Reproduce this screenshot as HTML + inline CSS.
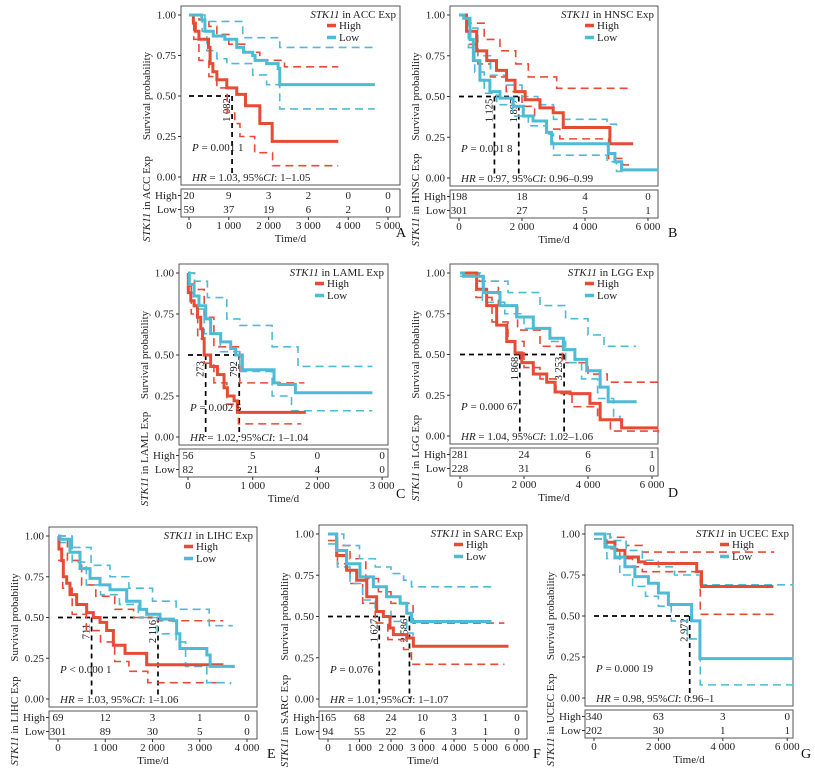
<!DOCTYPE html>
<html><head><meta charset="utf-8">
<style>
html,body{margin:0;padding:0;background:#fff;}
svg{display:block;font-family:"Liberation Serif",serif;}
</style></head>
<body>
<svg id="fig" width="815" height="774" viewBox="0 0 815 774" xmlns="http://www.w3.org/2000/svg"></svg>
<script>
// ---------- DATA (step points: time in days, survival prob) ----------
const A_high_t=[0,110,160,250,490,530,600,700,950,1200,1420,1780,2090,3750];
const A_high_s=[1,0.95,0.90,0.85,0.80,0.70,0.65,0.60,0.55,0.51,0.44,0.33,0.22,0.22];
const A_high_up_t=[0,250,500,700,1000,1400,1780,2400,3750];
const A_high_up_s=[1,0.97,0.93,0.88,0.82,0.77,0.72,0.68,0.68];
const A_high_lo_t=[0,120,250,500,700,960,1150,1280,1650,2100,3750];
const A_high_lo_s=[1,0.85,0.72,0.62,0.55,0.40,0.33,0.25,0.15,0.07,0.07];
const A_low_t=[0,320,400,610,900,1200,1370,1600,1660,1950,2240,2280,4670];
const A_low_s=[1,0.97,0.90,0.87,0.85,0.80,0.77,0.75,0.72,0.70,0.67,0.57,0.57];
const A_low_up_t=[0,400,1350,2280,4670];
const A_low_up_s=[1,0.96,0.86,0.80,0.80];
const A_low_lo_t=[0,330,450,700,950,1600,1950,2280,4670];
const A_low_lo_s=[1,0.90,0.78,0.73,0.70,0.63,0.57,0.42,0.42];
const A_ticks=[0,1000,2000,3000,4000,5000];
const A_tick_labels=["0","1 000","2 000","3 000","4 000","5 000"];
const A_risk_high=[20,9,3,2,0,0];
const A_risk_low=[59,37,19,6,2,0];
const A_medians=[1082];
const A_median_labels=["1 082"];

const B_high_t=[0,240,560,880,1190,1510,1780,2100,2570,2990,3310,4790,5530];
const B_high_s=[1,0.90,0.78,0.72,0.66,0.60,0.53,0.48,0.43,0.40,0.31,0.21,0.21];
const B_high_up_t=[0,300,800,1300,1800,2200,3100,5500];
const B_high_up_s=[1,0.95,0.85,0.78,0.70,0.62,0.55,0.55];
const B_high_lo_t=[0,300,600,1000,1500,2000,2400,2800,3200,4750,5200,5500];
const B_high_lo_s=[1,0.82,0.70,0.62,0.53,0.44,0.35,0.30,0.24,0.12,0.08,0.08];
const B_low_t=[0,150,350,455,665,980,1300,1720,2040,2350,2780,2940,4740,4950,5160,6320];
const B_low_s=[1,0.98,0.85,0.72,0.60,0.53,0.49,0.44,0.38,0.35,0.28,0.21,0.15,0.10,0.05,0.05];
const B_low_up_t=[0,300,600,1000,1500,2000,2500,3000,4700,5000];
const B_low_up_s=[1,0.92,0.75,0.63,0.57,0.50,0.45,0.36,0.33,0.32];
const B_low_lo_t=[0,300,500,800,1200,1700,2200,2800,3000,4700,5000,5200];
const B_low_lo_s=[1,0.80,0.65,0.52,0.45,0.38,0.32,0.27,0.14,0.10,0.04,0.04];
const B_ticks=[0,2000,4000,6000];
const B_tick_labels=["0","2 000","4 000","6 000"];
const B_risk_high=[198,18,4,0];
const B_risk_low=[301,27,5,1];
const B_medians=[1125,1897];
const B_median_labels=["1 125","1 897"];

const C_high_t=[0,5,43,94,146,197,225,250,350,455,557,609,712,763,1820];
const C_high_s=[1,0.88,0.83,0.80,0.73,0.66,0.60,0.50,0.43,0.38,0.30,0.25,0.22,0.15,0.15];
const C_high_up_t=[0,100,250,400,800,1800];
const C_high_up_s=[1,0.90,0.73,0.55,0.33,0.33];
const C_high_lo_t=[0,50,150,250,400,600,780,1750];
const C_high_lo_s=[0.92,0.75,0.60,0.45,0.33,0.20,0.08,0.08];
const C_low_t=[0,20,94,170,275,350,505,660,737,840,1330,1400,1660,2850];
const C_low_s=[1,0.93,0.86,0.80,0.72,0.63,0.58,0.54,0.50,0.41,0.33,0.32,0.27,0.27];
const C_low_up_t=[0,100,300,600,800,1300,1700,2850];
const C_low_up_s=[1,0.95,0.85,0.72,0.68,0.55,0.43,0.43];
const C_low_lo_t=[0,100,250,500,800,1300,1600,2850];
const C_low_lo_s=[0.88,0.78,0.63,0.52,0.40,0.25,0.16,0.16];
const C_ticks=[0,1000,2000,3000];
const C_tick_labels=["0","1 000","2 000","3 000"];
const C_risk_high=[56,5,0,0];
const C_risk_low=[82,21,4,0];
const C_medians=[273,792];
const C_median_labels=["273","792"];

const D_high_t=[0,520,833,1146,1460,1720,1930,2290,2710,2970,3440,4060,4380,5050,6200];
const D_high_s=[1,0.90,0.80,0.68,0.58,0.51,0.45,0.38,0.33,0.27,0.26,0.20,0.10,0.05,0.05];
const D_high_up_t=[0,600,1200,1800,2500,3200,4000,4600,6200];
const D_high_up_s=[1,0.95,0.80,0.65,0.55,0.45,0.38,0.33,0.33];
const D_high_lo_t=[0,500,1000,1500,2000,2500,3000,3500,4300,4700,6200];
const D_high_lo_s=[1,0.85,0.70,0.58,0.42,0.35,0.26,0.18,0.10,0.03,0.02];
const D_low_t=[0,104,730,1250,1770,2290,2810,3230,3590,3960,4380,4630,5520];
const D_low_s=[1,0.98,0.88,0.80,0.73,0.66,0.60,0.53,0.47,0.40,0.30,0.21,0.21];
const D_low_up_t=[0,700,1500,2500,3300,4000,4500,5500];
const D_low_up_s=[1,0.95,0.88,0.80,0.72,0.62,0.55,0.55];
const D_low_lo_t=[0,700,1400,2000,2800,3300,3800,4300,4800,5000];
const D_low_lo_s=[0.98,0.82,0.75,0.66,0.58,0.45,0.35,0.23,0.12,0.10];
const D_ticks=[0,2000,4000,6000];
const D_tick_labels=["0","2 000","4 000","6 000"];
const D_risk_high=[281,24,6,1];
const D_risk_low=[228,31,6,0];
const D_medians=[1868,3253];
const D_median_labels=["1 868","3 253"];

const E_high_t=[0,20,78,113,184,254,395,607,748,889,1030,1172,1419,1877,3500];
const E_high_s=[1,0.92,0.85,0.75,0.71,0.64,0.58,0.53,0.50,0.47,0.42,0.33,0.28,0.21,0.21];
const E_high_up_t=[0,200,500,800,1200,1600,2100,3500];
const E_high_up_s=[1,0.85,0.70,0.63,0.55,0.50,0.48,0.48];
const E_high_lo_t=[0,100,300,600,900,1200,1500,1900,3500];
const E_high_lo_s=[0.85,0.68,0.52,0.42,0.35,0.23,0.17,0.10,0.10];
const E_low_t=[0,40,254,466,678,889,1100,1454,1736,1877,2160,2440,2511,2580,3150,3220,3710];
const E_low_s=[1,0.98,0.90,0.80,0.74,0.70,0.67,0.60,0.55,0.52,0.49,0.48,0.40,0.31,0.27,0.20,0.19];
const E_low_up_t=[0,300,700,1100,1500,2000,2500,3200,3700];
const E_low_up_s=[1,0.93,0.82,0.75,0.68,0.60,0.55,0.45,0.45];
const E_low_lo_t=[0,300,600,900,1300,1700,2100,2500,2700,3150,3650];
const E_low_lo_s=[0.96,0.84,0.70,0.64,0.58,0.50,0.40,0.35,0.20,0.10,0.09];
const E_ticks=[0,1000,2000,3000,4000];
const E_tick_labels=["0","1 000","2 000","3 000","4 000"];
const E_risk_high=[69,12,3,1,0];
const E_risk_low=[301,89,30,5,0];
const E_medians=[711,2116];
const E_median_labels=["711","2 116"];

const F_high_t=[0,274,590,910,1230,1545,1757,1968,2075,2500,2710,5730];
const F_high_s=[1,0.87,0.78,0.72,0.62,0.53,0.50,0.43,0.39,0.37,0.32,0.32];
const F_high_up_t=[0,300,700,1200,1600,2000,2700,5600];
const F_high_up_s=[1,0.93,0.85,0.73,0.65,0.58,0.46,0.46];
const F_high_lo_t=[0,300,700,1100,1500,1900,2400,2650,5600];
const F_high_lo_s=[0.96,0.82,0.70,0.58,0.46,0.36,0.30,0.21,0.21];
const F_low_t=[0,274,590,1015,1440,1860,2290,2500,2650,5190];
const F_low_s=[1,0.90,0.82,0.74,0.68,0.62,0.58,0.52,0.47,0.47];
const F_low_up_t=[0,500,1000,1500,2000,2400,2650,5200];
const F_low_up_s=[1,0.93,0.85,0.80,0.76,0.72,0.68,0.68];
const F_low_lo_t=[0,300,700,1100,1500,2000,2500,2700,5200];
const F_low_lo_s=[0.94,0.80,0.70,0.60,0.53,0.47,0.40,0.32,0.32];
const F_ticks=[0,1000,2000,3000,4000,5000,6000];
const F_tick_labels=["0","1 000","2 000","3 000","4 000","5 000","6 000"];
const F_risk_high=[165,68,24,10,3,1,0];
const F_risk_low=[94,55,22,6,3,1,0];
const F_medians=[1627,2586];
const F_median_labels=["1 627","2 586"];

const G_high_t=[0,340,650,960,1380,1580,3190,3340,5570];
const G_high_s=[1,0.95,0.90,0.86,0.83,0.82,0.77,0.68,0.68];
const G_high_up_t=[0,500,1000,1500,3200,5600];
const G_high_up_s=[1,0.98,0.93,0.89,0.89,0.89];
const G_high_lo_t=[0,400,800,1200,1500,3300,5600];
const G_high_lo_s=[0.97,0.91,0.85,0.80,0.77,0.51,0.51];
const G_low_t=[0,340,650,960,1270,1690,2000,2310,3030,3290,6190];
const G_low_s=[1,0.92,0.86,0.80,0.74,0.70,0.64,0.57,0.47,0.24,0.24];
const G_low_up_t=[0,500,1000,1500,2000,2500,3300,6200];
const G_low_up_s=[1,0.96,0.90,0.84,0.80,0.75,0.69,0.69];
const G_low_lo_t=[0,400,800,1200,1600,2000,2400,2900,3300,6200];
const G_low_lo_s=[0.97,0.85,0.75,0.68,0.62,0.56,0.47,0.36,0.08,0.08];
const G_ticks=[0,2000,4000,6000];
const G_tick_labels=["0","2 000","4 000","6 000"];
const G_risk_high=[340,63,3,0];
const G_risk_low=[202,30,1,1];
const G_medians=[2972];
const G_median_labels=["2 972"];

const RED="#E64B35", CYAN="#4DBBD5";
const NS="http://www.w3.org/2000/svg";
const svg=document.getElementById("fig");
const FS=11;
function mk(tag,attrs,parent,txt){const e=document.createElementNS(NS,tag);for(const k in attrs)e.setAttribute(k,attrs[k]);if(txt!==undefined)e.textContent=txt;(parent||svg).appendChild(e);return e;}

function drawPanel(p){
  const g=mk("g",{});
  
  
  const X=t=>p.x0+t*p.k/1000;
  const Y=s=>p.Y0-s*(p.Y0-p.Y1);
  const box=mk("rect",{x:p.bx0,y:p.Y1-9,width:p.bx1-p.bx0,height:p.Y0+8-(p.Y1-9),fill:"none",stroke:"#555","stroke-width":1},g);
  
  
  [1,0.75,0.5,0.25,0].forEach(v=>{
    mk("line",{x1:p.bx0-3,x2:p.bx0,y1:Y(v),y2:Y(v),stroke:"#333"},g);
    const t=mk("text",{x:p.bx0-5,y:Y(v)+3.5,"font-size":FS,"text-anchor":"end",fill:"#222"},g,v.toFixed(2));
    
    
  });
  const yl=mk("text",{x:0,y:0,"font-size":FS,"text-anchor":"middle",fill:"#222",transform:`translate(${p.bx0-31},${Y(0.5)}) rotate(-90)`},g,"Survival probability");
  
  
  const mmax=Math.max(...p.med);
  mk("line",{x1:X(0),x2:X(mmax),y1:Y(0.5),y2:Y(0.5),stroke:"#000","stroke-width":1.7,"stroke-dasharray":"5,4"},g);
  p.med.forEach((m,i)=>{
    const l=mk("line",{x1:X(m),x2:X(m),y1:Y(0.5),y2:Y(0),stroke:"#000","stroke-width":1.7,"stroke-dasharray":"5,4"},g);
    
    
    const t=mk("text",{x:0,y:0,"font-size":10.5,"text-anchor":"middle",fill:"#111",transform:`translate(${X(m)-2},${Y(0.5)+14}) rotate(-90)`},g,p.medLab[i]);
    
    
  });
  function step(ts,ss){let d=`M${X(ts[0])},${Y(ss[0])}`;for(let i=1;i<ts.length;i++){d+=`H${X(ts[i])}V${Y(ss[i])}`;}return d;}
  const series=[["high",p.high,RED],["low",p.low,CYAN]];
  series.forEach(([nm,s,c])=>{
    const u=mk("path",{d:step(s.ut,s.us),fill:"none",stroke:c,"stroke-width":1.6,"stroke-dasharray":"8,5"},g);
    
    
    const lo=mk("path",{d:step(s.lt,s.ls),fill:"none",stroke:c,"stroke-width":1.6,"stroke-dasharray":"8,5"},g);
    
    
  });
  series.forEach(([nm,s,c])=>{
    const l=mk("path",{d:step(s.t,s.s),fill:"none",stroke:c,"stroke-width":3},g);
    
    
  });
  const lt=mk("text",{x:p.bx1-4,y:p.Y1+3,"font-size":FS,"text-anchor":"end",fill:"#222"},g);
  
  
  mk("tspan",{"font-style":"italic"},lt,"STK11");
  mk("tspan",{},lt," in "+p.code+" Exp");
  [["High",RED,14],["Low",CYAN,26]].forEach(([n,c,dy])=>{
    const k=mk("line",{x1:p.bx1-73,x2:p.bx1-64,y1:p.Y1+dy-3.5,y2:p.Y1+dy-3.5,stroke:c,"stroke-width":3.5},g);
    
    
    const t=mk("text",{x:p.bx1-61,y:p.Y1+dy,"font-size":FS,fill:"#222"},g,n);
    
    
  });
  const pt=mk("text",{x:p.bx0+11,y:p.Y0-26,"font-size":FS,fill:"#222"},g);
  
  
  mk("tspan",{"font-style":"italic"},pt,"P");
  mk("tspan",{},pt," "+p.pv);
  const hr=mk("text",{x:p.bx0+11,y:p.Y0+4,"font-size":FS,fill:"#222"},g);
  
  
  mk("tspan",{"font-style":"italic"},hr,"HR");
  mk("tspan",{},hr," = "+p.hr+", 95%");
  mk("tspan",{"font-style":"italic"},hr,"CI");
  mk("tspan",{},hr,": "+p.ci);
  const tb=mk("rect",{x:p.bx0,y:p.Y0+12,width:p.bx1-p.bx0,height:28,fill:"none",stroke:"#555","stroke-width":1},g);
  
  
  [["High",p.rh,p.Y0+22],["Low",p.rl,p.Y0+36]].forEach(([n,arr,yy])=>{
    mk("text",{x:p.bx0-4,y:yy,"font-size":FS,"text-anchor":"end",fill:"#222"},g,n);
    mk("line",{x1:p.bx0-3,x2:p.bx0,y1:yy-3.5,y2:yy-3.5,stroke:"#333"},g);
    arr.forEach((v,i)=>{
      const t=mk("text",{x:X(p.ticks[i]),y:yy,"font-size":FS,"text-anchor":"middle",fill:"#222"},g,String(v));
      
      
    });
  });
  p.ticks.forEach((tv,i)=>{
    mk("line",{x1:X(tv),x2:X(tv),y1:p.Y0+40,y2:p.Y0+43,stroke:"#333"},g);
    const t=mk("text",{x:X(tv),y:p.Y0+52,"font-size":FS,"text-anchor":"middle",fill:"#222"},g,p.tickLab[i]);
    
    
  });
  const xt=mk("text",{x:(p.bx0+p.bx1)/2,y:p.Y0+65,"font-size":FS,"text-anchor":"middle",fill:"#222"},g,"Time/d");
  
  
  const tl=mk("text",{x:0,y:0,"font-size":FS,"text-anchor":"middle",fill:"#222",transform:`translate(${p.bx0-31},${p.Y0+22}) rotate(-90)`},g);
  
  
  mk("tspan",{"font-style":"italic"},tl,"STK11");
  mk("tspan",{},tl," in "+p.code+" Exp");
  const pl=mk("text",{x:p.lx,y:p.ly,"font-size":14,fill:"#111"},g,p.id);
  
  
}
function S(t,s,ut,us,lt,ls){return {t,s,ut,us,lt,ls};}
const panels=[
 {id:"A",code:"ACC",bx0:181,bx1:400,x0:189,k:39.8,Y1:15,Y0:177,lx:396,ly:237,pv:"= 0.001 1",hr:"1.03",ci:"1–1.05",
  high:S(A_high_t,A_high_s,A_high_up_t,A_high_up_s,A_high_lo_t,A_high_lo_s),low:S(A_low_t,A_low_s,A_low_up_t,A_low_up_s,A_low_lo_t,A_low_lo_s),
  ticks:A_ticks,tickLab:A_tick_labels,rh:A_risk_high,rl:A_risk_low,med:A_medians,medLab:A_median_labels},
 {id:"B",code:"HNSC",bx0:450,bx1:658,x0:459,k:31.5,Y1:15,Y0:178,lx:668,ly:237,pv:"= 0.001 8",hr:"0.97",ci:"0.96–0.99",
  high:S(B_high_t,B_high_s,B_high_up_t,B_high_up_s,B_high_lo_t,B_high_lo_s),low:S(B_low_t,B_low_s,B_low_up_t,B_low_up_s,B_low_lo_t,B_low_lo_s),
  ticks:B_ticks,tickLab:B_tick_labels,rh:B_risk_high,rl:B_risk_low,med:B_medians,medLab:B_median_labels},
 {id:"C",code:"LAML",bx0:179,bx1:388,x0:188,k:64.7,Y1:273,Y0:437,lx:396,ly:498,pv:"= 0.002 5",hr:"1.02",ci:"1–1.04",
  high:S(C_high_t,C_high_s,C_high_up_t,C_high_up_s,C_high_lo_t,C_high_lo_s),low:S(C_low_t,C_low_s,C_low_up_t,C_low_up_s,C_low_lo_t,C_low_lo_s),
  ticks:C_ticks,tickLab:C_tick_labels,rh:C_risk_high,rl:C_risk_low,med:C_medians,medLab:C_median_labels},
 {id:"D",code:"LGG",bx0:450,bx1:658,x0:460,k:32,Y1:273,Y0:436,lx:668,ly:497,pv:"= 0.000 67",hr:"1.04",ci:"1.02–1.06",
  high:S(D_high_t,D_high_s,D_high_up_t,D_high_up_s,D_high_lo_t,D_high_lo_s),low:S(D_low_t,D_low_s,D_low_up_t,D_low_up_s,D_low_lo_t,D_low_lo_s),
  ticks:D_ticks,tickLab:D_tick_labels,rh:D_risk_high,rl:D_risk_low,med:D_medians,medLab:D_median_labels},
 {id:"E",code:"LIHC",bx0:49,bx1:257,x0:58,k:47.25,Y1:536,Y0:699,lx:267,ly:758,pv:"< 0.000 1",hr:"1.03",ci:"1–1.06",
  high:S(E_high_t,E_high_s,E_high_up_t,E_high_up_s,E_high_lo_t,E_high_lo_s),low:S(E_low_t,E_low_s,E_low_up_t,E_low_up_s,E_low_lo_t,E_low_lo_s),
  ticks:E_ticks,tickLab:E_tick_labels,rh:E_risk_high,rl:E_risk_low,med:E_medians,medLab:E_median_labels},
 {id:"F",code:"SARC",bx0:319,bx1:527,x0:328,k:31.5,Y1:534,Y0:699,lx:533,ly:758,pv:"= 0.076",hr:"1.01",ci:"1–1.07",
  high:S(F_high_t,F_high_s,F_high_up_t,F_high_up_s,F_high_lo_t,F_high_lo_s),low:S(F_low_t,F_low_s,F_low_up_t,F_low_up_s,F_low_lo_t,F_low_lo_s),
  ticks:F_ticks,tickLab:F_tick_labels,rh:F_risk_high,rl:F_risk_low,med:F_medians,medLab:F_median_labels},
 {id:"G",code:"UCEC",bx0:585,bx1:793,x0:594,k:32.2,Y1:534,Y0:698,lx:801,ly:758,pv:"= 0.000 19",hr:"0.98",ci:"0.96–1",
  high:S(G_high_t,G_high_s,G_high_up_t,G_high_up_s,G_high_lo_t,G_high_lo_s),low:S(G_low_t,G_low_s,G_low_up_t,G_low_up_s,G_low_lo_t,G_low_lo_s),
  ticks:G_ticks,tickLab:G_tick_labels,rh:G_risk_high,rl:G_risk_low,med:G_medians,medLab:G_median_labels}
];
panels.forEach(drawPanel);
</script>
</body></html>
